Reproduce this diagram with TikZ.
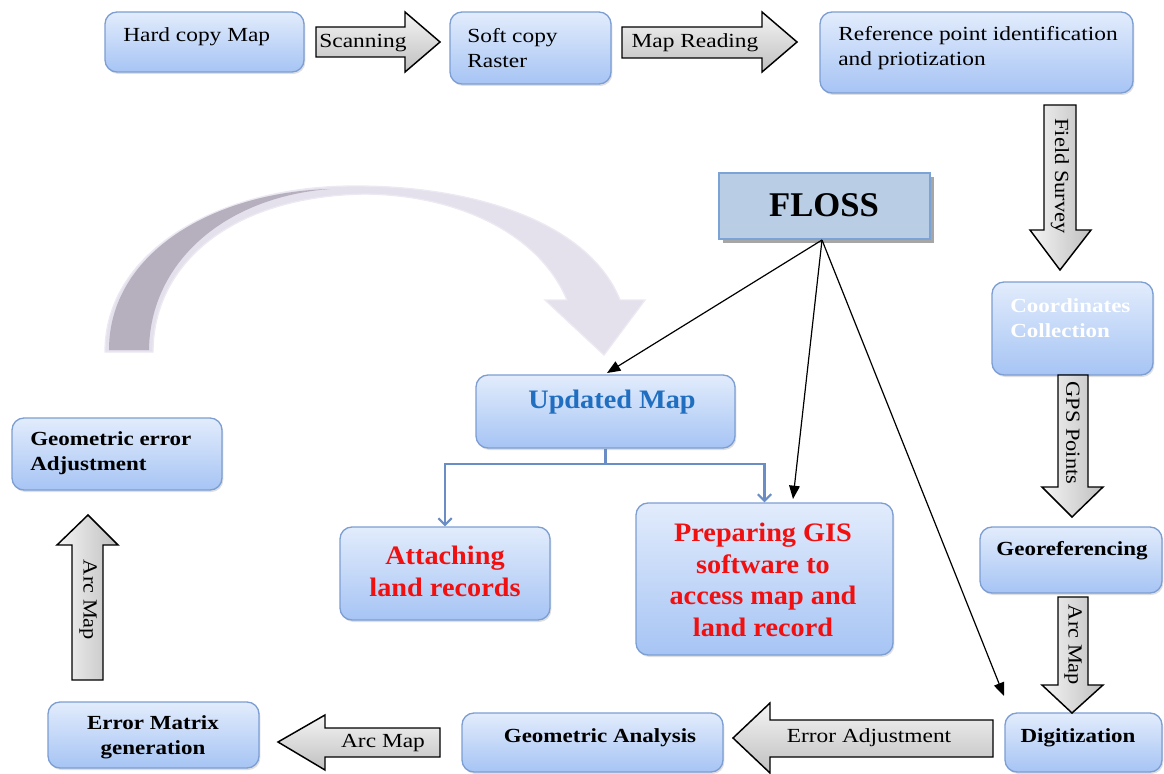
\documentclass[tikz,border=0pt]{standalone}
\usepackage{fontspec}
\setmainfont{Liberation Serif}
\usetikzlibrary{arrows.meta,shadows,fit,calc}
\definecolor{boxline}{HTML}{7C9ED3}
\definecolor{boxtop}{HTML}{E2ECFC}
\definecolor{boxbot}{HTML}{A6C4F4}
\definecolor{treeblue}{HTML}{6A8DC6}
\definecolor{upblue}{HTML}{1F6EBF}
\definecolor{flossfill}{HTML}{B9CDE5}
\definecolor{flossline}{HTML}{7BA3D6}
\definecolor{arclight}{HTML}{E4E0EC}
\definecolor{arcdark}{HTML}{B6B0BE}
\definecolor{redtxt}{HTML}{F01010}
\begin{document}
\begin{tikzpicture}[x=0.75pt,y=-0.75pt,
 box/.style={draw=boxline, line width=1pt, rounded corners=9pt, top color=boxtop, bottom color=boxbot, inner sep=0pt,
   drop shadow={shadow xshift=1pt, shadow yshift=-1.5pt, opacity=0.25}},
 barrow/.style={draw=black, line width=1.1pt, top color=gray!8, bottom color=gray!50},
 varrow/.style={draw=black, line width=1.1pt, left color=gray!8, right color=gray!50},
 t/.style={font=\fontsize{15}{18.5}\selectfont, inner sep=0pt, xscale=1.17, transform shape},
 tb/.style={font=\fontsize{15}{18.5}\selectfont\bfseries, inner sep=0pt, xscale=1.15, transform shape},
 rt/.style={font=\fontsize{15}{18}\selectfont, inner sep=0pt, rotate=-90, xscale=1.12, transform shape},
 big/.style={font=\fontsize{20}{24}\selectfont\bfseries, inner sep=0pt, xscale=1.06, transform shape, align=center},
 fl/.style={-{Triangle[length=10pt,width=8pt]}, line width=0.9pt},
 tree/.style={treeblue, line width=1.6pt, -{Straight Barb[length=5pt,width=10pt]}},
]
\useasboundingbox (0,0) rectangle (1164,774);

% curved arrow
\fill[arclight, draw=arclight!70!white, line width=1pt]
  (105,352) .. controls (105,250) and (220,186) .. (355,186)
  .. controls (480,186) and (590,225) .. (620,300)
  -- (645,300) -- (604,355) -- (545,300) -- (567,300)
  .. controls (540,235) and (460,195) .. (365,194)
  .. controls (230,196) and (153,265) .. (153,352) -- cycle;
\fill[arcdark]
  (109,350) .. controls (109,252) and (215,192) .. (330,189)
  .. controls (225,197) and (150,262) .. (149,350) -- cycle;

% boxes
\node[box, fit={(105,12) (304,72)}] (hard) {};
\node[box, fit={(450,12) (611,84)}] (soft) {};
\node[box, fit={(820,12) (1133,93)}] (ref) {};
\node[box, fit={(992,282) (1153,375)}] (coord) {};
\node[box, fit={(980,527) (1162,593)}] (geo) {};
\node[box, fit={(1005,713) (1162,772)}] (digit) {};
\node[box, fit={(462,713) (723,772)}] (geoan) {};
\node[box, fit={(48,702) (259,768)}] (errmat) {};
\node[box, fit={(12,418) (222,490)}] (geoerr) {};
\node[box, fit={(476,375) (735,448)}] (updated) {};
\node[box, fit={(340,527) (550,620)}] (attach) {};
\node[box, fit={(636,503) (893,655)}] (prep) {};

% FLOSS
\fill[gray!70] (723,177) rectangle (934,243);
\node[draw=flossline, fill=flossfill, line width=1pt, inner sep=0pt, fit={(719,173) (930,239)}] (floss) {};
\node[font=\fontsize{26}{30}\selectfont\bfseries, inner sep=0pt] (flosst) at (824,205) {FLOSS};

% box texts
\node[t, anchor=west] (hardt) at (123,37) {Hard copy Map};
\node[t, anchor=west, align=left] (softt) at (467,48) {Soft copy\\Raster};
\node[t, anchor=west, align=left] (reft) at (838,48) {Reference point identification\\and priotization};
\node[tb, anchor=west, align=left, text=white] (coordt) at (1010,318) {Coordinates\\Collection};
\node[tb] (geot) at (1072,551) {Georeferencing};
\node[tb] (digitt) at (1078,738) {Digitization};
\node[tb] (geoant) at (600,738) {Geometric Analysis};
\node[tb, align=center] (errmatt) at (153,737) {Error Matrix\\generation};
\node[tb, anchor=west, align=left] (geoerrt) at (30,453) {Geometric error\\Adjustment};
\node[big, text=upblue] (updatedt) at (612,402) {Updated Map};
\node[big, text=redtxt, font=\fontsize{20}{24}\selectfont\bfseries] (attacht) at (445,571) {Attaching\\land records};
\node[big, text=redtxt, font=\fontsize{20}{23.8}\selectfont\bfseries] (prept) at (763,580) {Preparing GIS\\software to\\access map and\\land record};

% block arrows
\path[barrow] (316,27) -- (405,27) -- (405,12) -- (440,42) -- (405,72) -- (405,57) -- (316,57) -- cycle;
\node[t] (scan) at (363,43) {Scanning};
\path[barrow] (622,27) -- (762,27) -- (762,12) -- (797,42) -- (762,72) -- (762,58) -- (622,58) -- cycle;
\node[t] (mapr) at (695,43) {Map Reading};
\path[varrow] (1044,105) -- (1076,105) -- (1076,230) -- (1091,230) -- (1060,270) -- (1030,230) -- (1044,230) -- cycle;
\node[rt] (field) at (1060,176) {Field Survey};
\path[varrow] (1058,375) -- (1088,375) -- (1088,487) -- (1103,487) -- (1072,517) -- (1042,487) -- (1058,487) -- cycle;
\node[rt] (gps) at (1073,433) {GPS Points};
\path[varrow] (1058,597) -- (1088,597) -- (1088,685) -- (1103,685) -- (1072,713) -- (1042,685) -- (1058,685) -- cycle;
\node[rt] (arcr) at (1073,645) {Arc Map};
\path[barrow] (993,720) -- (770,720) -- (770,703) -- (733,738) -- (770,773) -- (770,757) -- (993,757) -- cycle;
\node[t] (erradj) at (869,738) {Error Adjustment};
\path[barrow] (440,728) -- (325,728) -- (325,715) -- (278,742) -- (325,770) -- (325,757) -- (440,757) -- cycle;
\node[t] (arcb) at (383,743) {Arc Map};
\path[varrow] (72,680) -- (103,680) -- (103,545) -- (118,545) -- (88,515) -- (57,545) -- (72,545) -- cycle;
\node[rt] (arcl) at (88,600) {Arc Map};

% tree connectors
\draw[tree] (updated.south) -- ++(0,15) -| (attach.north);
\draw[tree] (updated.south) -- ++(0,15) -| (prep.north);

% FLOSS connectors
\coordinate (fo) at (822,240);
\coordinate (e1) at (607,373);
\coordinate (e2) at (793,499);
\coordinate (e3) at (1004,696);
\draw[fl] (fo) -- (e1);
\draw[fl] (fo) -- (e2);
\draw[fl] (fo) -- (e3);
\end{tikzpicture}
\end{document}
